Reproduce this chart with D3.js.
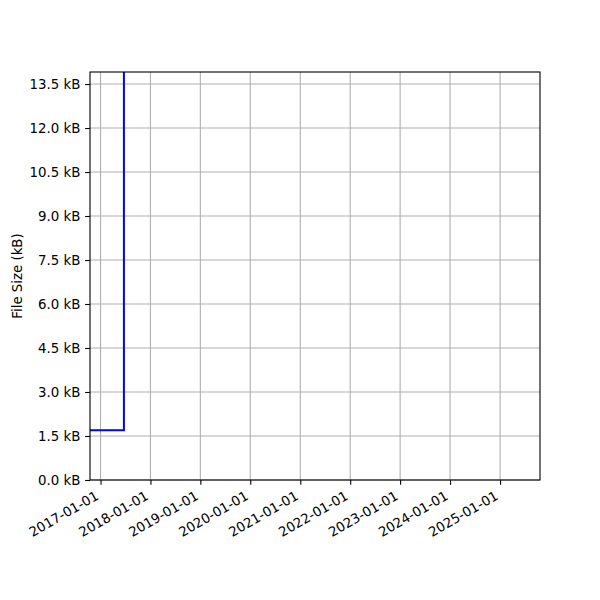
<!DOCTYPE html>
<html><head><meta charset="utf-8">
<script src="https://cdn.jsdelivr.net/npm/d3@7"></script>
<style>body{margin:0;background:#fff}svg text{font-family:"DejaVu Sans",sans-serif}</style>
</head><body><svg id="c" width="600" height="600"></svg>
<script>
const dates = ["2016-09-01", "2017-06-21", "2025-12-31"];
const sizes = [1.7, 20.0, 20.0];
const xDomain = ["2016-10-16", "2025-10-20"];
const yDomain = [0, 13.91];
const yTicks = [0, 1.5, 3.0, 4.5, 6.0, 7.5, 9.0, 10.5, 12.0, 13.5];
const xTickDates = ["2017-01-01","2018-01-01","2019-01-01","2020-01-01","2021-01-01","2022-01-01","2023-01-01","2024-01-01","2025-01-01"];

const parse = d3.utcParse("%Y-%m-%d");
const fmt = d3.utcFormat("%Y-%m-%d");
const svg = d3.select("#c");
const L=90,R=540,T=72,B=480;
const FS = 13.33;
const FF = "DejaVu Sans, sans-serif";
const TK = 4.86, PAD = 4.86;
const x = d3.scaleUtc().domain(xDomain.map(parse)).range([L,R]);
const y = d3.scaleLinear().domain(yDomain).range([B,T]);

// grid
const g = svg.append("g");
g.selectAll(".gx").data(xTickDates.map(parse)).join("line")
  .attr("x1",d=>x(d)).attr("x2",d=>x(d)).attr("y1",T).attr("y2",B)
  .attr("stroke","#b0b0b0").attr("stroke-width",1.1);
g.selectAll(".gy").data(yTicks).join("line")
  .attr("x1",L).attr("x2",R).attr("y1",d=>y(d)).attr("y2",d=>y(d))
  .attr("stroke","#b0b0b0").attr("stroke-width",1.1);

svg.append("clipPath").attr("id","clip").append("rect")
  .attr("x",L).attr("y",T).attr("width",R-L).attr("height",B-T);

const data = dates.map((d,i)=>({d:parse(d),v:sizes[i]}));
svg.append("path").datum(data).attr("clip-path","url(#clip)")
  .attr("fill","none").attr("stroke","#0000ff").attr("stroke-width",2)
  .attr("d", d3.line().x(d=>x(d.d)).y(d=>y(d.v)).curve(d3.curveStepAfter));

// axes
const xa = svg.append("g").attr("transform",`translate(0,${B})`)
  .call(d3.axisBottom(x).tickValues(xTickDates.map(parse)).tickFormat(fmt).tickSize(TK).tickPadding(PAD));
xa.attr("font-family",FF);
xa.select(".domain").remove();
xa.selectAll(".tick text").attr("font-size",FS).attr("fill","#000")
  .attr("text-anchor","end").attr("x",0).attr("y",0).attr("dy",0)
  .attr("transform","translate(-1.5,18.5) rotate(-30)");
xa.selectAll(".tick line").attr("stroke","#000").attr("stroke-width",1.1);

const ya = svg.append("g").attr("transform",`translate(${L},0)`)
  .call(d3.axisLeft(y).tickValues(yTicks).tickFormat(d=>d3.format(".1f")(d)+" kB").tickSize(TK).tickPadding(PAD));
ya.attr("font-family",FF);
ya.select(".domain").remove();
ya.selectAll("text").attr("font-size",FS).attr("fill","#000");
ya.selectAll(".tick line").attr("stroke","#000").attr("stroke-width",1.1);

svg.append("rect").attr("x",L).attr("y",T).attr("width",R-L).attr("height",B-T)
  .attr("fill","none").attr("stroke","#000").attr("stroke-width",1.1);

svg.append("text").attr("transform",`translate(21.5,${(T+B)/2}) rotate(-90)`)
  .attr("text-anchor","middle").attr("font-size",FS).attr("font-family",FF).text("File Size (kB)");
</script></body></html>
